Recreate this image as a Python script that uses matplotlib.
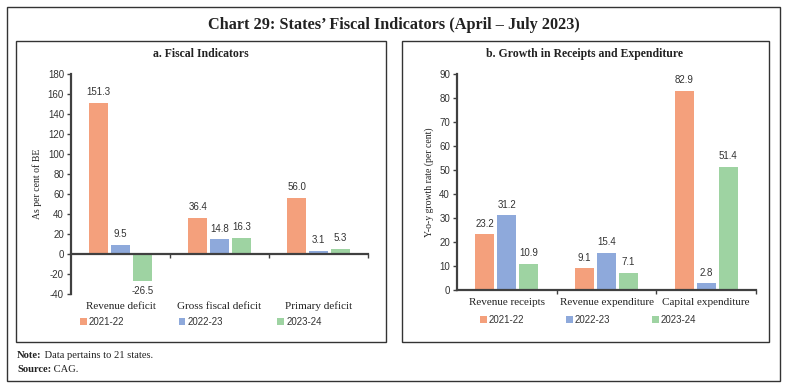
import matplotlib.pyplot as plt
from matplotlib.patches import Rectangle
import numpy as np

years = ["2021-22", "2022-23", "2023-24"]
colors = ["#F4A07C", "#8EA9DB", "#9ED3A2"]

fiscal_cats = ["Revenue deficit", "Gross fiscal deficit", "Primary deficit"]
fiscal_vals = [
    [151.3, 36.4, 56.0],
    [9.5, 14.8, 3.1],
    [-26.5, 16.3, 5.3],
]

growth_cats = ["Revenue receipts", "Revenue expenditure", "Capital expenditure"]
growth_vals = [
    [23.2, 9.1, 82.9],
    [31.2, 15.4, 2.8],
    [10.9, 7.1, 51.4],
]

SERIF = "Liberation Serif"
SANS = "Liberation Sans"
AXC = "#404040"


def make_panel(fig, rect, cats, vals, ylim, ystep, ylabel, lab_off, leg_x, leg_y, colsp):
    ax = fig.add_axes(rect)
    x = np.arange(len(cats))
    w = 0.19
    step = 0.22
    for i, (yr, col) in enumerate(zip(years, colors)):
        pos = x + (i - 1) * step
        bars = ax.bar(pos, vals[i], width=w, color=col, label=yr, zorder=2)
        for b, v in zip(bars, vals[i]):
            if v >= 0:
                ax.annotate(f"{v:.1f}", (b.get_x() + w / 2, v), xytext=(0, 4),
                            textcoords="offset points", ha="center", va="bottom",
                            fontsize=7, family=SANS, color="#333333")
            else:
                ax.annotate(f"{v:.1f}", (b.get_x() + w / 2, v), xytext=(0, -4),
                            textcoords="offset points", ha="center", va="top",
                            fontsize=7, family=SANS, color="#333333")
    ax.set_xlim(-0.5, len(cats) - 0.5)
    ax.set_ylim(*ylim)
    ax.set_yticks(np.arange(ylim[0], ylim[1] + 1, ystep))
    ax.set_yticklabels([str(int(t)) for t in ax.get_yticks()], family=SANS, fontsize=7, color="#333333")
    for s in ["top", "right"]:
        ax.spines[s].set_visible(False)
    ax.spines["left"].set_color(AXC)
    ax.spines["left"].set_linewidth(1.6)
    ax.spines["bottom"].set_color(AXC)
    ax.spines["bottom"].set_linewidth(1.6)
    ax.spines["bottom"].set_position(("data", 0))
    ax.tick_params(axis="y", length=3, width=1, color=AXC, pad=2)
    ax.set_xticks([0.5, 1.5, 2.5])
    ax.set_xticklabels([])
    ax.tick_params(axis="x", length=3, width=1, color=AXC, direction="out")
    for xi, c in zip(x, cats):
        ax.text(xi, lab_off, c, transform=ax.get_xaxis_transform(), ha="center", va="top",
                family=SERIF, fontsize=8, color="#222222")
    ax.set_ylabel(ylabel, family=SERIF, fontsize=7, color="#222222", labelpad=4)
    leg = ax.legend(loc="center left", bbox_to_anchor=(leg_x, leg_y), ncol=3, frameon=False,
                    prop={"family": SANS, "size": 7}, handlelength=0.7, handleheight=0.7,
                    handletextpad=0.2, columnspacing=colsp, borderpad=0, borderaxespad=0)
    for t in leg.get_texts():
        t.set_color("#333333")
    return ax


fig = plt.figure(figsize=(7.87, 3.87), dpi=100)
W, H = 787, 387


def frac(x0, y0, x1, y1):
    return [x0 / W, 1 - y1 / H, (x1 - x0) / W, (y1 - y0) / H]


fig.patches.append(Rectangle((7 / W, 1 - 381 / H), 773 / W, 374 / H, transform=fig.transFigure,
                             fill=False, edgecolor="#333333", lw=1))
fig.patches.append(Rectangle((16 / W, 1 - 342 / H), 370 / W, 301 / H, transform=fig.transFigure,
                             fill=False, edgecolor="#333333", lw=1))
fig.patches.append(Rectangle((402 / W, 1 - 342 / H), 367 / W, 301 / H, transform=fig.transFigure,
                             fill=False, edgecolor="#333333", lw=1))

fig.text(0.5, 1 - 25 / H, "Chart 29: States\u2019 Fiscal Indicators (April \u2013 July 2023)",
         ha="center", va="center", family=SERIF, fontsize=11.7, fontweight="bold", color="#222222")
fig.text(201 / W, 1 - 54 / H, "a. Fiscal Indicators", ha="center", va="center",
         family=SERIF, fontsize=8.5, fontweight="bold", color="#222222")
fig.text(585 / W, 1 - 54 / H, "b. Growth in Receipts and Expenditure", ha="center", va="center",
         family=SERIF, fontsize=8.5, fontweight="bold", color="#222222")

# legend y: pixel row converted to axes fraction
make_panel(fig, frac(71, 74, 368, 294), fiscal_cats, fiscal_vals, (-40, 180), 20,
           "As per cent of BE", -0.035, (80 - 71) / 297, (294 - 322) / 220, 5.6)
make_panel(fig, frac(457, 74, 756, 290), growth_cats, growth_vals, (0, 90), 10,
           "Y-o-y growth rate (per cent)", -0.035, (480 - 457) / 299, (290 - 320) / 216, 4.3)

fig.canvas.draw()
r = fig.canvas.get_renderer()
for yy, bold, rest in [(356, "Note:", " Data pertains to 21 states."), (370, "Source:", " CAG.")]:
    t = fig.text(17 / W, 1 - yy / H, bold, ha="left", va="center", family=SERIF, fontsize=7.6,
                 fontweight="bold", color="#222222")
    bb = t.get_window_extent(r)
    fig.text(bb.x1 / W, 1 - yy / H, rest, ha="left", va="center", family=SERIF, fontsize=7.6,
             color="#222222")

fig.savefig("out.png", dpi=100)
